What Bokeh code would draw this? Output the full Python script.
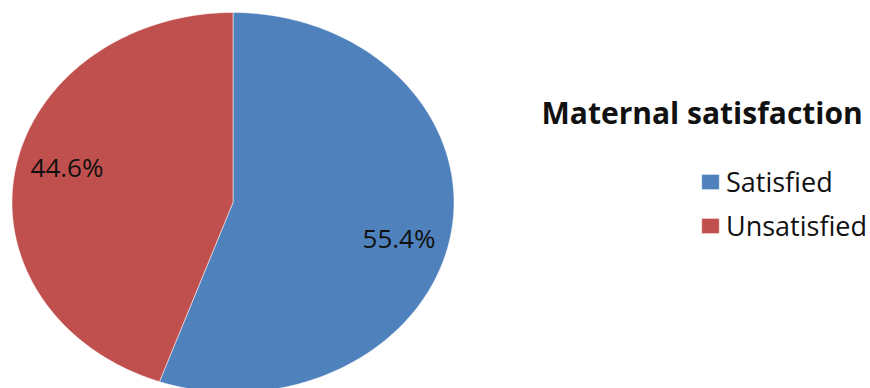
import numpy as np
from bokeh.plotting import figure
from bokeh.models import Range1d, Label, Legend, LegendItem, ColumnDataSource
from bokeh.core.properties import value
from bokeh.embed import file_html
from bokeh.resources import INLINE

# ---- data ----
categories = ["Satisfied", "Unsatisfied"]
percents = [55.4, 44.6]
colors = ["#4F81BD", "#C0504D"]
chart_title = "Maternal satisfaction"

# ---- geometry (styling) ----
W, H = 870, 388
CX, CY = 232.5, H - 202.0   # pie centre in figure pixels (y up)
RX, RY = 221.0, 190.0       # ellipse radii in pixels
LX, LY = 0.762, 1.12        # label placement factors

p = figure(width=W, height=H, output_backend="svg", toolbar_location=None,
           x_range=Range1d(0, W), y_range=Range1d(0, H), min_border=0,
           tools="")
p.axis.visible = False
p.grid.visible = False
p.outline_line_color = None
p.background_fill_color = "white"

fracs = np.array(percents) / np.sum(percents)
ends = np.cumsum(fracs) * 2 * np.pi
starts = np.concatenate([[0.0], ends[:-1]])

renderers = []
lab_x, lab_y, lab_t = [], [], []
for cat, s, e, c, pct in zip(categories, starts, ends, colors, percents):
    t = np.linspace(s, e, 240)
    xs = np.concatenate([[CX], CX + RX * np.sin(t), [CX]])
    ys = np.concatenate([[CY], CY + RY * np.cos(t), [CY]])
    r = p.patch(xs, ys, fill_color=c, line_color="white", line_alpha=0.5, line_width=1)
    renderers.append((cat, r))
    m = (s + e) / 2
    lab_x.append(CX + RX * LX * np.sin(m))
    lab_y.append(CY + RY * LY * np.cos(m))
    lab_t.append(f"{pct:.1f}%")

src = ColumnDataSource(dict(x=lab_x, y=lab_y, t=lab_t))
p.text(x="x", y="y", text="t", source=src, text_align="center", text_baseline="middle",
       text_font=value("Open Sans"), text_font_size="26px", text_color="#111111")

p.add_layout(Label(x=541, y=H - 112, text=chart_title, text_font="Open Sans",
                   text_font_style="bold", text_font_size="30px", text_color="#111111",
                   text_baseline="middle", text_align="left"))

legend = Legend(items=[LegendItem(label=cat, renderers=[r]) for cat, r in renderers],
                location=(699, 144), orientation="vertical",
                label_text_font="Open Sans", label_text_font_size="27px",
                label_text_color="#111111", glyph_width=22, glyph_height=19,
                label_standoff=5, spacing=7, padding=0, margin=0,
                border_line_color=None, background_fill_alpha=0,
                label_height=30)
p.add_layout(legend)

open("out.html", "w").write(file_html(p, INLINE))
